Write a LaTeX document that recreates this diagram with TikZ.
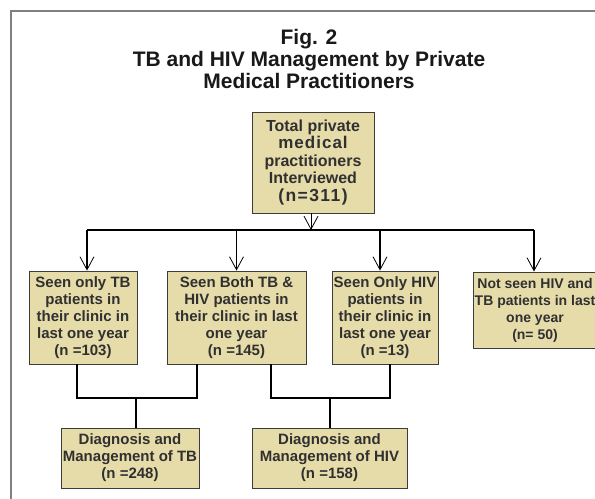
\documentclass[tikz,border=0pt]{standalone}
\usepackage{fontspec}
\setmainfont{Liberation Sans}
\usetikzlibrary{arrows.meta}
\definecolor{boxfill}{RGB}{230,220,170}
\definecolor{boxline}{RGB}{60,60,60}
\definecolor{txt}{RGB}{48,48,48}
\definecolor{titletxt}{RGB}{25,25,25}
\definecolor{framecol}{RGB}{128,128,128}
\tikzset{
  box/.style={draw=boxline, line width=0.9bp, fill=boxfill, align=center,
    inner sep=0pt, text=txt, font=\bfseries\fontsize{15bp}{17bp}\selectfont},
  conn/.style={line width=1.7bp, black},
  arr/.style={conn, -{Straight Barb[length=13bp,width=14bp,line width=0.8bp]}},
  thinarr/.style={line width=1bp, black, -{Straight Barb[length=13bp,width=14bp,line width=0.8bp]}},
  titlestyle/.style={align=center, text=titletxt, inner sep=0pt,
    font=\bfseries\fontsize{21bp}{22bp}\selectfont}
}
\begin{document}
\begin{tikzpicture}[x=1bp,y=-1bp]
\useasboundingbox (0,0) rectangle (595,499);
\clip (0,0) rectangle (595,499);
\fill[white] (0,0) rectangle (595,499);
\draw[framecol, line width=1.5bp] (11,520) -- (11,11) -- (620,11);

\node[titlestyle] (title) at (309,58.5) {Fig. 2\\TB and HIV Management by Private\\Medical Practitioners};

\node[box, minimum width=122bp, minimum height=101bp, font=\bfseries\fontsize{16bp}{17.5bp}\selectfont] (top) at (313,162.5)
  {Total private\\{\fontsize{17bp}{17.5bp}\selectfont\addfontfeatures{LetterSpace=6}medical}\\practitioners\\Interviewed\\{\fontsize{17.5bp}{17.5bp}\selectfont\addfontfeatures{LetterSpace=8}(n=311)}};

\node[box, minimum width=108bp, minimum height=93bp] (b1) at (83,317.5)
  {Seen only TB\\patients in\\their clinic in\\last one year\\(n =103)};
\node[box, minimum width=139bp, minimum height=93bp] (b2) at (236.5,317.5)
  {Seen Both TB \&\\HIV patients in\\their clinic in last\\one year\\(n =145)};
\node[box, minimum width=106bp, minimum height=93bp] (b3) at (385,317.5)
  {Seen Only HIV\\patients in\\their clinic in\\last one year\\(n =13)};
\node[box, minimum width=124bp, minimum height=76bp, font=\bfseries\fontsize{14bp}{17bp}\selectfont] (b4) at (535,310)
  {Not seen HIV and\\TB patients in last\\one year\\(n= 50)};

\node[box, minimum width=138bp, minimum height=60bp] (b5) at (130,458)
  {Diagnosis and\\Management of TB\\(n =248)};
\node[box, minimum width=155bp, minimum height=60bp] (b6) at (329.5,458)
  {Diagnosis and\\Management of HIV\\(n =158)};

\coordinate (busL) at (87,230);
\coordinate (busR) at (534,230);
\coordinate (d3) at (380,230);
\coordinate (j1) at (136,398);
\coordinate (j2) at (330,398);

\draw[thinarr] ([xshift=-2bp]top.south) -- ([xshift=-2bp]top.south |- busL);
\draw[conn] (busL) -- (busR);
\draw[arr] (busL) -- (busL |- b1.north);
\draw[arr] (b2.north |- busL) -- (b2.north);
\draw[arr] (d3) -- (d3 |- b3.north);
\draw[arr] (busR) -- (busR |- b4.north);

\draw[conn] ([xshift=-6bp]b1.south) |- (j1) -| ([xshift=-39.5bp]b2.south);
\draw[conn] (j1) -- (j1 |- b5.north);
\draw[conn] ([xshift=34.5bp]b2.south) |- (j2) -| ([xshift=5bp]b3.south);
\draw[conn] (j2) -- (j2 |- b6.north);
\end{tikzpicture}
\end{document}
